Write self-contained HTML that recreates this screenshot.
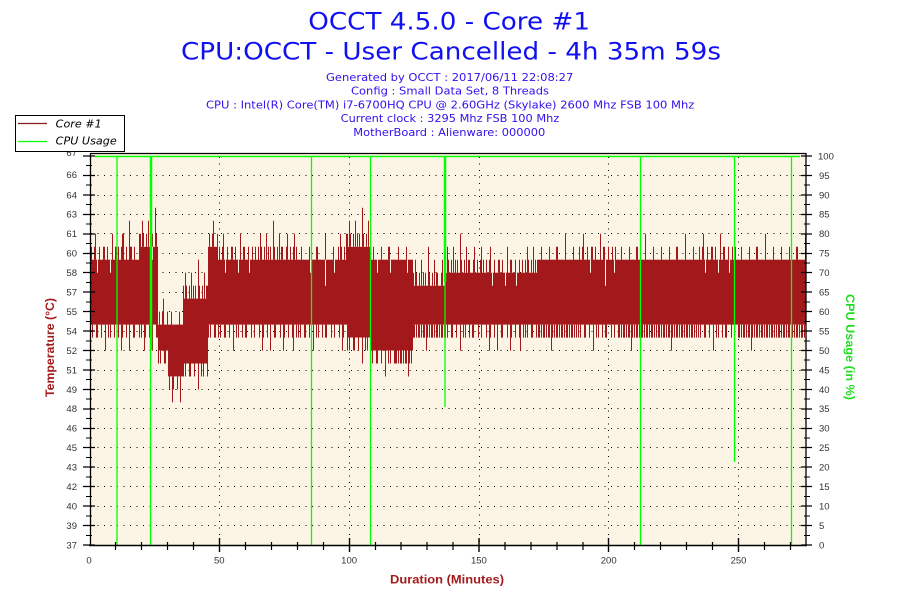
<!DOCTYPE html>
<html><head><meta charset="utf-8">
<style>html,body{margin:0;padding:0;background:#fff;}svg{display:block}</style>
</head>
<body>
<svg width="900" height="600" viewBox="0 0 900 600" xmlns="http://www.w3.org/2000/svg" xmlns:xlink="http://www.w3.org/1999/xlink">
<defs>
<path id="TA" d="M1.5 0v-13M4.5 0v-13M5.5 0v-26M9.5 0v-13M13.5 0v-13M14.5 0v-13M17.5 0v-13M22.5 0v-26M25.5 0v-13M26.5 0v-13M30.5 0v-13M34.5 0v-13M37.5 0v-13"/>
<path id="TB" d="M3.5 0v-13M11.5 0v-13M18.5 0v-13M19.5 0v-13M27.5 0v-26M35.5 0v-13"/>
<path id="TC" d="M0.5 0v-13M2.5 0v-26M3.5 0v-13M6.5 0v-13M8.5 0v-26M10.5 0v-13M12.5 0v-13M15.5 0v-39M16.5 0v-13M19.5 0v-13M21.5 0v-26M23.5 0v-13M24.5 0v-13M28.5 0v-13M29.5 0v-26M32.5 0v-13M35.5 0v-13M36.5 0v-26M38.5 0v-13"/>
<path id="BA" d="M0.5 0v13M2.5 0v13M6.5 0v13M7.5 0v13M11.5 0v13M15.5 0v26M18.5 0v13M20.5 0v13M24.5 0v13M27.5 0v13M28.5 0v13M33.5 0v13M36.5 0v13"/>
<path id="BB" d="M0.5 0v13M1.5 0v13M3.5 0v13M5.5 0v13M6.5 0v13M8.5 0v13M10.5 0v13M11.5 0v13M13.5 0v26M14.5 0v13M16.5 0v13M18.5 0v13M19.5 0v13M21.5 0v13M23.5 0v13M24.5 0v13M26.5 0v13M28.5 0v13M29.5 0v13M31.5 0v13M33.5 0v13M34.5 0v13M36.5 0v13M38.5 0v13"/>
<path id="BC" d="M1.5 0v13M4.5 0v26M5.5 0v13M9.5 0v13M12.5 0v26M16.5 0v13M17.5 0v13M22.5 0v13M25.5 0v26M26.5 0v13M30.5 0v13M34.5 0v13M35.5 0v26M38.5 0v13"/>
<path id="NA" d="M7.5 0v13M20.5 0v13M31.5 0v13"/>
<path id="NB" d="M12.5 0v13M27.5 0v26M36.5 0v13"/>
<clipPath id="k1"><rect x="90" y="150" width="27" height="400"/></clipPath>
<clipPath id="k2"><rect x="117" y="150" width="23" height="400"/></clipPath>
<clipPath id="k3"><rect x="140" y="150" width="18" height="400"/></clipPath>
<clipPath id="k4"><rect x="158" y="150" width="10" height="400"/></clipPath>
<clipPath id="k5"><rect x="168" y="150" width="15" height="400"/></clipPath>
<clipPath id="k6"><rect x="183" y="150" width="25" height="400"/></clipPath>
<clipPath id="k7"><rect x="208" y="150" width="10" height="400"/></clipPath>
<clipPath id="k8"><rect x="218" y="150" width="129" height="400"/></clipPath>
<clipPath id="k9"><rect x="347" y="150" width="23" height="400"/></clipPath>
<clipPath id="k10"><rect x="370" y="150" width="25" height="400"/></clipPath>
<clipPath id="k11"><rect x="395" y="150" width="18" height="400"/></clipPath>
<clipPath id="k12"><rect x="413" y="150" width="32" height="400"/></clipPath>
<clipPath id="k13"><rect x="445" y="150" width="93" height="400"/></clipPath>
<clipPath id="k14"><rect x="538" y="150" width="268" height="400"/></clipPath>
</defs>
<rect width="900" height="600" fill="#fff"/>
<!-- titles -->
<g font-family="'DejaVu Sans','Liberation Sans',sans-serif" fill="#1010F0">
<text x="308.3" y="29.3" font-size="24" textLength="281.7" lengthAdjust="spacingAndGlyphs">OCCT 4.5.0 - Core #1</text>
<text x="181" y="59.3" font-size="24" textLength="540" lengthAdjust="spacingAndGlyphs">CPU:OCCT - User Cancelled - 4h 35m 59s</text>
</g>
<g font-family="'DejaVu Sans','Liberation Sans',sans-serif" fill="#3410EC" font-size="11">
<text x="326" y="81" textLength="247.3" lengthAdjust="spacingAndGlyphs">Generated by OCCT : 2017/06/11 22:08:27</text>
<text x="351" y="94.6" textLength="198" lengthAdjust="spacingAndGlyphs">Config : Small Data Set, 8 Threads</text>
<text x="206" y="108.3" textLength="488.3" lengthAdjust="spacingAndGlyphs">CPU : Intel(R) Core(TM) i7-6700HQ CPU @ 2.60GHz (Skylake) 2600 Mhz FSB 100 Mhz</text>
<text x="340.7" y="122.2" textLength="218.6" lengthAdjust="spacingAndGlyphs">Current clock : 3295 Mhz FSB 100 Mhz</text>
<text x="353.3" y="135.8" textLength="192" lengthAdjust="spacingAndGlyphs">MotherBoard : Alienware: 000000</text>
</g>

<!-- plot background -->
<rect x="90" y="153" width="716" height="392" fill="#FCF5E6"/>

<!-- grid -->
<g stroke="#000" stroke-width="1" stroke-dasharray="1 5.5" fill="none">
<path d="M91 525.5H806 M91 506.5H806 M91 486.5H806 M91 467.5H806 M91 447.5H806 M91 428.5H806 M91 408.5H806 M91 389.5H806 M91 370.5H806 M91 350.5H806 M91 331.5H806 M91 311.5H806 M91 292.5H806 M91 272.5H806 M91 253.5H806 M91 233.5H806 M91 214.5H806 M91 195.5H806 M91 175.5H806"/>
<path d="M219.5 157V545 M349.5 157V545 M479.5 157V545 M608.5 157V545 M738.5 157V545"/>
</g>

<!-- temperature data core -->
<g fill="#A3181B">
<rect x="90" y="259.7" width="27" height="64.9"/>
<rect x="117" y="259.7" width="23" height="64.9"/>
<rect x="140" y="246.8" width="18" height="77.8"/>
<rect x="158" y="324.6" width="10" height="25.9"/>
<rect x="168" y="324.6" width="15" height="51.8"/>
<rect x="183" y="298.6" width="25" height="64.9"/>
<rect x="208" y="246.8" width="10" height="77.8"/>
<rect x="218" y="259.7" width="129" height="64.9"/>
<rect x="347" y="246.8" width="23" height="90.7"/>
<rect x="370" y="259.7" width="25" height="90.8"/>
<rect x="395" y="259.7" width="18" height="90.8"/>
<rect x="413" y="285.7" width="32" height="38.9"/>
<rect x="445" y="272.7" width="93" height="51.9"/>
<rect x="538" y="259.7" width="268" height="64.9"/>
</g>
<!-- spikes -->
<g stroke="#A3181B" stroke-width="1" fill="none">
<path d="M90.5 194.9V260 M123.5 233.8V260 M129.5 220.8V260"/>
<g clip-path="url(#k1)"><use href="#TA" x="90" y="259.7"/><use href="#BA" x="90" y="324.6"/><use href="#NA" x="90" y="259.7" stroke="#FCF5E6"/></g>
<g clip-path="url(#k2)"><use href="#TA" x="117" y="259.7"/><use href="#BC" x="117" y="324.6"/></g>
<g clip-path="url(#k3)"><use href="#TC" x="140" y="246.8"/><use href="#BC" x="140" y="324.6"/><use href="#NB" x="140" y="246.8" stroke="#FCF5E6"/></g>
<g clip-path="url(#k4)"><use href="#TA" x="158" y="324.6"/><use href="#BA" x="158" y="350.5"/></g>
<g clip-path="url(#k5)"><use href="#TB" x="168" y="324.6"/><use href="#BC" x="168" y="376.4"/></g>
<g clip-path="url(#k6)"><use href="#TC" x="183" y="298.6"/><use href="#BA" x="183" y="363.5"/></g>
<g clip-path="url(#k7)"><use href="#TA" x="208" y="246.8"/><use href="#BA" x="208" y="324.6"/></g>
<g clip-path="url(#k8)">
<use href="#TA" x="218" y="259.7"/><use href="#TC" x="258" y="259.7"/><use href="#TB" x="298" y="259.7"/><use href="#TC" x="338" y="259.7"/>
<use href="#BA" x="218" y="324.6"/><use href="#BC" x="258" y="324.6"/><use href="#BA" x="298" y="324.6"/><use href="#BC" x="338" y="324.6"/>
<use href="#NA" x="218" y="259.7" stroke="#FCF5E6"/><use href="#NB" x="298" y="259.7" stroke="#FCF5E6"/>
</g>
<g clip-path="url(#k9)"><use href="#TC" x="347" y="246.8"/><use href="#BA" x="347" y="337.5"/></g>
<g clip-path="url(#k10)"><use href="#TB" x="370" y="259.7"/><use href="#BA" x="370" y="350.5"/><use href="#NA" x="370" y="259.7" stroke="#FCF5E6"/></g>
<g clip-path="url(#k11)"><use href="#TB" x="395" y="259.7"/><use href="#BB" x="395" y="350.5"/><use href="#NB" x="395" y="259.7" stroke="#FCF5E6"/></g>
<g clip-path="url(#k12)"><use href="#TC" x="413" y="285.7"/><use href="#BB" x="413" y="324.6"/></g>
<g clip-path="url(#k13)">
<use href="#TC" x="445" y="272.7"/><use href="#TA" x="485" y="272.7"/><use href="#TC" x="525" y="272.7"/>
<use href="#BA" x="445" y="324.6"/><use href="#BC" x="485" y="324.6"/><use href="#BA" x="525" y="324.6"/>
<use href="#NA" x="485" y="272.7" stroke="#FCF5E6"/>
</g>
<g clip-path="url(#k14)">
<use href="#TB" x="538" y="259.7"/><use href="#TA" x="578" y="259.7"/><use href="#TB" x="618" y="259.7"/><use href="#TB" x="658" y="259.7"/><use href="#TA" x="698" y="259.7"/><use href="#TB" x="738" y="259.7"/><use href="#TB" x="778" y="259.7"/>
<use href="#BB" x="538" y="324.6"/><use href="#BA" x="578" y="324.6"/><use href="#BB" x="618" y="324.6"/><use href="#BB" x="658" y="324.6"/><use href="#BA" x="698" y="324.6"/><use href="#BB" x="738" y="324.6"/><use href="#BB" x="778" y="324.6"/>
<use href="#NB" x="578" y="259.7" stroke="#FCF5E6"/><use href="#NA" x="698" y="259.7" stroke="#FCF5E6"/>
</g>
</g>

<!-- CPU usage -->
<g stroke="#00FF00" fill="none">
<path d="M95 156.5H800" stroke-width="1.6"/>
<path d="M117 156V545 M150.5 350V545 M311.5 156V545 M370.5 156V545 M445 282V407 M640.5 156V545 M734.5 156V462 M791.5 156V545" stroke-width="1.3"/>
<path d="M151 156V350 M445 156V282" stroke-width="2.5"/>
</g>

<!-- axes -->
<g stroke="#000" fill="none">
<path d="M90 153.5H806.5" stroke-width="1.2"/>
<path d="M90.5 153V546" stroke-width="1.3"/>
<path d="M806 153V546" stroke-width="1.3"/>
<path d="M89 545.5H807" stroke-width="1.5"/>
<path stroke-width="1.2" d="M83 545H95 M83 525.5H95 M83 506H95 M83 486.5H95 M83 467H95 M83 447.5H95 M83 428.5H95 M83 409H95 M83 389.5H95 M83 370H95 M83 350.5H95 M83 331H95 M83 311.5H95 M83 292H95 M83 272.5H95 M83 253.5H95 M83 234H95 M83 214.5H95 M83 195H95 M83 175.5H95 M83 156H95"/>
<path stroke-width="1.1" d="M86 535.5H92 M86 516H92 M86 496.5H92 M86 477H92 M86 457.5H92 M86 438H92 M86 418.5H92 M86 399H92 M86 379.5H92 M86 360H92 M86 341H92 M86 321.5H92 M86 302H92 M86 282.5H92 M86 263H92 M86 243.5H92 M86 224H92 M86 204.5H92 M86 185H92 M86 165.5H92"/>
<path stroke-width="1.2" d="M801 545H812 M801 525.5H812 M801 506H812 M801 486.5H812 M801 467H812 M801 447.5H812 M801 428.5H812 M801 409H812 M801 389.5H812 M801 370H812 M801 350.5H812 M801 331H812 M801 311.5H812 M801 292H812 M801 272.5H812 M801 253.5H812 M801 234H812 M801 214.5H812 M801 195H812 M801 175.5H812 M801 156H812"/>
<path stroke-width="1.1" d="M804 535.5H810 M804 516H810 M804 496.5H810 M804 477H810 M804 457.5H810 M804 438H810 M804 418.5H810 M804 399H810 M804 379.5H810 M804 360H810 M804 341H810 M804 321.5H810 M804 302H810 M804 282.5H810 M804 263H810 M804 243.5H810 M804 224H810 M804 204.5H810 M804 185H810 M804 165.5H810"/>
<path stroke-width="1.2" d="M115.5 542V550 M141.5 542V550 M167.5 542V550 M193.5 542V550 M245.5 542V550 M271.5 542V550 M297.5 542V550 M323.5 542V550 M375.5 542V550 M401 542V550 M427 542V550 M453 542V550 M505 542V550 M531 542V550 M557 542V550 M583 542V550 M634.5 542V550 M660.5 542V550 M686.5 542V550 M712.5 542V550 M764.5 542V550 M790.5 542V550"/>
<path stroke-width="1.4" d="M219.5 538V552 M349.5 538V552 M479 538V552 M608.5 538V552 M738.5 538V552"/>
</g>

<!-- left labels -->
<g font-family="'Liberation Sans',sans-serif" font-size="9.5" fill="#333" text-anchor="end">
<text x="77" y="548.4">37</text>
<text x="77" y="528.9">39</text>
<text x="77" y="509.5">40</text>
<text x="77" y="490">42</text>
<text x="77" y="470.6">43</text>
<text x="77" y="451.1">45</text>
<text x="77" y="431.7">46</text>
<text x="77" y="412.2">48</text>
<text x="77" y="392.8">49</text>
<text x="77" y="373.3">51</text>
<text x="77" y="353.9">52</text>
<text x="77" y="334.4">54</text>
<text x="77" y="315">55</text>
<text x="77" y="295.5">57</text>
<text x="77" y="276.1">58</text>
<text x="77" y="256.6">60</text>
<text x="77" y="237.2">61</text>
<text x="77" y="217.7">63</text>
<text x="77" y="198.3">64</text>
<text x="77" y="177.8">66</text>
<text x="77" y="156">67</text>
</g>
<!-- right labels -->
<g font-family="'Liberation Sans',sans-serif" font-size="9.5" fill="#333" text-anchor="start">
<text x="819" y="548.4">0</text>
<text x="819" y="528.9">5</text>
<text x="819" y="509.5">10</text>
<text x="819" y="490">15</text>
<text x="819" y="470.6">20</text>
<text x="819" y="451.1">25</text>
<text x="819" y="431.7">30</text>
<text x="819" y="412.2">35</text>
<text x="819" y="392.8">40</text>
<text x="819" y="373.3">45</text>
<text x="819" y="353.9">50</text>
<text x="819" y="334.4">55</text>
<text x="819" y="315">60</text>
<text x="819" y="295.5">65</text>
<text x="819" y="276.1">70</text>
<text x="819" y="256.6">75</text>
<text x="819" y="237.2">80</text>
<text x="819" y="217.7">85</text>
<text x="819" y="198.3">90</text>
<text x="819" y="178.8">95</text>
<text x="818" y="159.4">100</text>
</g>
<!-- bottom labels -->
<g font-family="'Liberation Sans',sans-serif" font-size="9.5" fill="#333" text-anchor="middle">
<text x="89" y="563.5">0</text>
<text x="219.3" y="563.5">50</text>
<text x="349.1" y="563.5">100</text>
<text x="478.9" y="563.5">150</text>
<text x="608.7" y="563.5">200</text>
<text x="738.5" y="563.5">250</text>
</g>

<!-- axis titles -->
<g font-family="'Liberation Sans',sans-serif" font-size="12" font-weight="bold">
<text x="390" y="583.5" fill="#A31C1C" textLength="114" lengthAdjust="spacingAndGlyphs">Duration (Minutes)</text>
<text transform="translate(54,397) rotate(-90)" x="0" y="0" fill="#A31C1C" textLength="99" lengthAdjust="spacingAndGlyphs">Temperature (°C)</text>
<text transform="translate(846,294) rotate(90)" x="0" y="0" fill="#22DD22" textLength="106" lengthAdjust="spacingAndGlyphs">CPU Usage (in %)</text>
</g>

<!-- legend -->
<rect x="15.5" y="115.5" width="109" height="36" fill="#fff" stroke="#000" stroke-width="1"/>
<path d="M18 123.5H47" stroke="#8B1A1A" stroke-width="1.2"/>
<path d="M18 141.5H47" stroke="#00FF00" stroke-width="1.2"/>
<g font-family="'DejaVu Sans','Liberation Sans',sans-serif" font-size="11" font-style="italic" fill="#000">
<text x="55.7" y="127.3" textLength="46" lengthAdjust="spacingAndGlyphs">Core #1</text>
<text x="55.7" y="144.6" textLength="61" lengthAdjust="spacingAndGlyphs">CPU Usage</text>
</g>
</svg>
</body></html>
